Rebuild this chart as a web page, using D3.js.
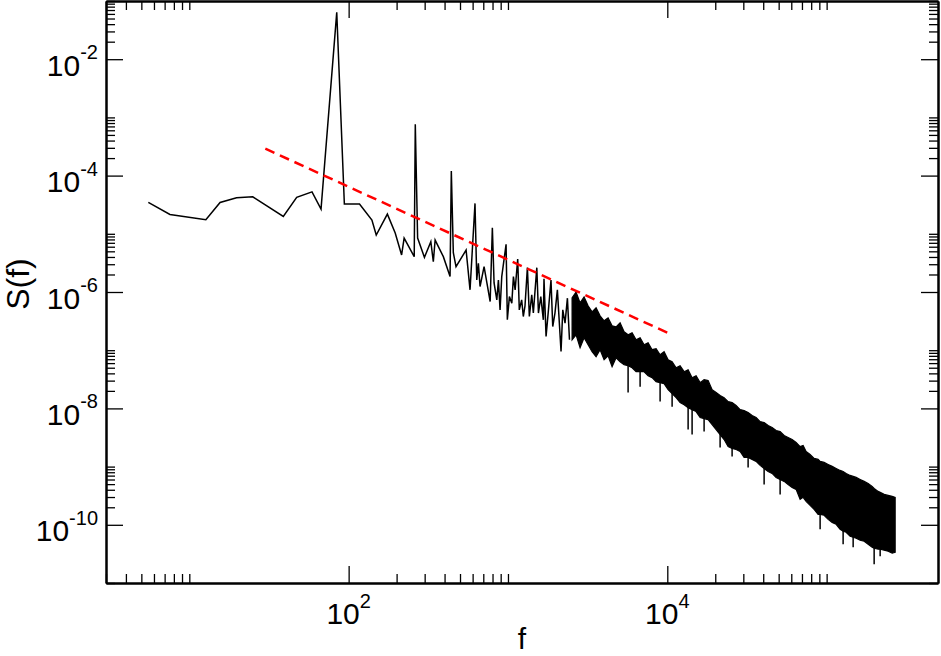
<!DOCTYPE html>
<html>
<head>
<meta charset="utf-8">
<script src="https://cdn.jsdelivr.net/npm/d3@7"></script>
<style>
  body { margin: 0; background: #fff; }
  text { font-family: "Liberation Sans", Arial, Helvetica, sans-serif; fill: #000; }
</style>
</head>
<body>
<div id="chart"></div>
<script>

// low frequency part of the spectrum, single points still visible
var lineFreq = [5.53, 7.56, 12.7, 15.6, 19.8, 25.0, 38.9, 47.2, 58.9, 67.1,
  84.2, 94.0, 117, 140, 149, 175, 196, 215, 223, 258,
  262, 271, 299, 328, 340, 349, 393, 433, 441, 454,
  472, 546, 578, 621, 637, 652, 668, 708, 773, 798,
  818, 851, 871, 892, 914, 973, 991, 1021, 1057, 1082,
  1109, 1151, 1178, 1219, 1248, 1279, 1324, 1362, 1410, 1443,
  1517, 1553, 1607, 1667, 1683, 1734, 1795, 1862, 1910, 1973,
  2042, 2153, 2208, 2281, 2361, 2432];
var lineS = [3.46e-5, 2.15e-5, 1.74e-5, 3.46e-5, 4.15e-5, 4.32e-5, 1.99e-5, 4.22e-5, 5.26e-5, 2.65e-5,
  6.39e-2, 3.24e-5, 3.24e-5, 1.72e-5, 9.53e-6, 2.18e-5, 1.03e-5, 4.33e-6, 8.45e-6, 4.05e-6,
  7.6e-4, 8.45e-6, 3.94e-6, 7.31e-6, 3.32e-6, 7.81e-6, 4.05e-6, 1.84e-6, 1.2e-4, 4.73e-6,
  2.72e-6, 5.26e-6, 1.09e-6, 3.33e-5, 1.61e-6, 3.12e-6, 1.24e-6, 2.72e-6, 6.85e-7, 1.27e-5,
  1.43e-6, 7.33e-7, 1.61e-6, 4.93e-7, 1.84e-6, 6.59e-6, 3.33e-7, 8.34e-7, 6.43e-7, 1.84e-6,
  1.09e-6, 3.69e-6, 4.93e-7, 7.33e-7, 3.79e-7, 5.78e-7, 2.62e-6, 3.79e-7, 8.91e-7, 4.38e-7,
  2.62e-6, 4.34e-7, 8.34e-7, 3.33e-7, 1.68e-6, 1.72e-7, 4.93e-7, 1.61e-6, 2.55e-7, 4.38e-7,
  1.09e-6, 9.5e-8, 4.93e-7, 2.92e-7, 7.83e-7, 1.51e-7];

// high frequency part: trace is so dense it reads as a band (upper / lower edge)
var bandFreq = [2526, 2676, 2835, 3004, 3183, 3372, 3573, 3786, 4011, 4250,
  4503, 4771, 5055, 5356, 5675, 6012, 6370, 6750, 7152, 7577,
  8028, 8506, 9012, 9548, 1.012e4, 1.072e4, 1.136e4, 1.203e4, 1.275e4, 1.351e4,
  1.431e4, 1.516e4, 1.607e4, 1.702e4, 1.804e4, 1.911e4, 2.025e4, 2.145e4, 2.273e4, 2.408e4,
  2.551e4, 2.703e4, 2.864e4, 3.034e4, 3.215e4, 3.406e4, 3.609e4, 3.824e4, 4.052e4, 4.293e4,
  4.548e4, 4.819e4, 5.106e4, 5.410e4, 5.731e4, 6.072e4, 6.434e4, 6.816e4, 7.118e4, 7.433e4,
  7.875e4, 8.344e4, 8.841e4, 9.101e4, 9.645e4, 1.022e5, 1.083e5, 1.147e5, 1.215e5, 1.269e5,
  1.326e5, 1.404e5, 1.467e5, 1.532e5, 1.623e5, 1.720e5, 1.822e5, 1.930e5, 1.987e5, 2.105e5,
  2.167e5, 2.296e5, 2.433e5, 2.577e5, 2.692e5];
var bandHigh = [7.92e-7, 1.00e-6, 6.50e-7, 8.24e-7, 5.78e-7, 4.56e-7, 5.34e-7, 3.90e-7, 3.20e-7, 3.60e-7,
  2.62e-7, 2.52e-7, 2.95e-7, 2.07e-7, 1.84e-7, 1.99e-7, 1.51e-7, 1.64e-7, 1.24e-7, 1.34e-7,
  1.02e-7, 1.06e-7, 8.36e-8, 9.41e-8, 6.86e-8, 6.34e-8, 5.00e-8, 5.41e-8, 4.27e-8, 4.62e-8,
  3.37e-8, 3.65e-8, 2.77e-8, 3.12e-8, 3.00e-8, 2.10e-8, 1.87e-8, 1.66e-8, 1.53e-8, 1.31e-8,
  1.26e-8, 1.12e-8, 9.54e-9, 9.17e-9, 8.47e-9, 7.53e-9, 6.96e-9, 5.94e-9, 5.71e-9, 5.07e-9,
  4.69e-9, 4.17e-9, 4.00e-9, 3.42e-9, 3.16e-9, 2.92e-9, 2.59e-9, 2.21e-9, 2.30e-9, 1.82e-9,
  1.62e-9, 1.38e-9, 1.33e-9, 1.23e-9, 1.18e-9, 1.09e-9, 1.01e-9, 9.30e-10, 8.59e-10, 8.26e-10,
  7.63e-10, 7.05e-10, 6.78e-10, 6.52e-10, 6.02e-10, 5.57e-10, 5.14e-10, 4.57e-10, 4.22e-10, 3.75e-10,
  3.61e-10, 3.33e-10, 3.20e-10, 3.08e-10, 2.96e-10];
var bandLow = [1.51e-7, 1.84e-7, 1.10e-7, 1.64e-7, 1.24e-7, 9.41e-8, 7.72e-8, 1.02e-7, 6.86e-8, 8.03e-8,
  5.20e-8, 7.42e-8, 6.34e-8, 5.63e-8, 5.41e-8, 5.00e-8, 4.27e-8, 4.27e-8, 4.27e-8, 3.65e-8,
  3.37e-8, 2.88e-8, 2.77e-8, 2.66e-8, 2.10e-8, 1.79e-8, 1.53e-8, 1.26e-8, 1.16e-8, 1.03e-8,
  9.54e-9, 8.82e-9, 6.96e-9, 6.69e-9, 6.43e-9, 5.28e-9, 4.33e-9, 3.56e-9, 2.92e-9, 2.21e-9,
  2.05e-9, 1.97e-9, 1.82e-9, 1.44e-9, 1.44e-9, 1.33e-9, 1.23e-9, 1.05e-9, 9.30e-10, 8.26e-10,
  7.63e-10, 6.52e-10, 6.02e-10, 5.57e-10, 4.94e-10, 4.39e-10, 4.06e-10, 2.74e-10, 2.96e-10, 2.53e-10,
  2.16e-10, 1.84e-10, 1.51e-10, 1.51e-10, 1.46e-10, 1.24e-10, 1.10e-10, 1.02e-10, 8.37e-11, 7.74e-11,
  7.44e-11, 6.35e-11, 6.11e-11, 5.87e-11, 5.43e-11, 5.22e-11, 4.63e-11, 4.12e-11, 3.96e-11, 3.80e-11,
  3.80e-11, 3.66e-11, 3.51e-11, 3.25e-11, 3.38e-11];

// narrow downward dips sticking out of the band
var dipFreq = [5675, 6750, 9012, 1.072e4, 1.351e4, 1.431e4, 1.702e4, 2.145e4, 2.551e4, 3.215e4,
  4.052e4, 5.106e4, 9.101e4, 1.269e5, 1.467e5, 1.987e5, 2.167e5];
var dipS = [1.87e-8, 2.36e-8, 1.31e-8, 1.07e-8, 4.33e-9, 3.56e-9, 4.00e-9, 2.13e-9, 1.49e-9, 9.67e-10,
  4.94e-10, 3.33e-10, 8.37e-11, 4.63e-11, 4.12e-11, 2.10e-11, 2.89e-11];

// red dashed power law guide
var fitFreq = [30, 10000];
var fitS = [2.9e-4, 2.0e-7];

// labelled ticks
var xMajor = [1e2, 1e4];
var xExp = ["2", "4"];
var yMajor = [1e-2, 1e-4, 1e-6, 1e-8, 1e-10];
var yExp = ["-2", "-4", "-6", "-8", "-10"];

var svgWidth = 941;
var svgHeight = 656;

var margin = {
  top: 1,
  right: 3,
  bottom: 73,
  left: 106
};

var width = svgWidth - margin.left - margin.right;
var height = svgHeight - margin.top - margin.bottom;

var svg = d3.select("#chart")
  .append("svg")
  .attr("width", svgWidth)
  .attr("height", svgHeight);

var chartGroup = svg.append("g")
  .attr("transform", `translate(${margin.left}, ${margin.top})`);

var xScale = d3.scaleLog()
  .domain([3, 5e5])
  .range([0, width]);

var yScale = d3.scaleLog()
  .domain([1e-11, 1e-1])
  .range([height, 0]);

// minor ticks: 2..10 times each labelled power (every second decade)
function minorTicks(scale, powers) {
  var out = [];
  var dom = scale.domain();
  powers.forEach(function(p) {
    for (var m = 2; m <= 10; m++) {
      var v = m * p;
      if (v >= dom[0] * 0.999 && v <= dom[1] * 1.001) out.push(v);
    }
  });
  return out;
}
var xMinor = minorTicks(xScale, [1, 1e2, 1e4]);
var yMinor = minorTicks(yScale, [1e-12, 1e-10, 1e-8, 1e-6, 1e-4, 1e-2]);

var majorLen = 17;
var minorLen = 9;

function addAxis(axisFn, transform, ticks, len) {
  var g = chartGroup.append("g")
    .attr("transform", transform)
    .call(axisFn
      .tickValues(ticks)
      .tickSize(-len)
      .tickSizeOuter(0)
      .tickFormat(""));
  g.select(".domain").attr("stroke-width", 2);
  g.selectAll(".tick line").attr("stroke-width", 1.3);
  return g;
}

// four sides, ticks pointing inwards
addAxis(d3.axisBottom(xScale), `translate(0, ${height})`, xMinor, minorLen);
addAxis(d3.axisBottom(xScale), `translate(0, ${height})`, xMajor, majorLen);
addAxis(d3.axisTop(xScale), "translate(0, 0)", xMinor, minorLen);
addAxis(d3.axisTop(xScale), "translate(0, 0)", xMajor, majorLen);
addAxis(d3.axisLeft(yScale), "translate(0, 0)", yMinor, minorLen);
addAxis(d3.axisLeft(yScale), "translate(0, 0)", yMajor, majorLen);
addAxis(d3.axisRight(yScale), `translate(${width}, 0)`, yMinor, minorLen);
addAxis(d3.axisRight(yScale), `translate(${width}, 0)`, yMajor, majorLen);

// tick labels with superscript exponent
xMajor.forEach(function(v, i) {
  var t = chartGroup.append("text")
    .attr("x", xScale(v))
    .attr("y", height + 41)
    .style("text-anchor", "middle")
    .style("font-size", "30px");
  t.append("tspan").text("10");
  t.append("tspan")
    .attr("dy", -16)
    .style("font-size", "20px")
    .text(xExp[i]);
});

yMajor.forEach(function(v, i) {
  var t = chartGroup.append("text")
    .attr("x", -8)
    .attr("y", yScale(v) + 16.5)
    .style("text-anchor", "end")
    .style("font-size", "30px");
  t.append("tspan").text("10");
  t.append("tspan")
    .attr("dy", -16.5)
    .style("font-size", "20px")
    .text(yExp[i]);
});

// axis titles
chartGroup.append("text")
  .attr("x", width / 2)
  .attr("y", height + 66)
  .style("text-anchor", "middle")
  .style("font-size", "30px")
  .text("f");

chartGroup.append("text")
  .attr("transform", `translate(${-77}, 283) rotate(-90)`)
  .style("text-anchor", "middle")
  .style("font-size", "32px")
  .text("S(f)");

// dense band
var band = d3.area()
  .x((d, i) => xScale(bandFreq[i]))
  .y0((d, i) => yScale(bandLow[i]))
  .y1((d, i) => yScale(bandHigh[i]));

chartGroup.append("path")
  .datum(bandFreq)
  .attr("d", band)
  .attr("fill", "#000")
  .attr("stroke", "#000")
  .attr("stroke-width", 1.2);

// dips: short vertical strokes from the band's lower edge down to the dip value
chartGroup.selectAll(".dip")
  .data(dipFreq)
  .enter()
  .append("line")
  .attr("class", "dip")
  .attr("x1", d => xScale(d))
  .attr("x2", d => xScale(d))
  .attr("y1", d => yScale(bandLow[bandFreq.indexOf(d)]) - 2)
  .attr("y2", (d, i) => yScale(dipS[i]))
  .attr("stroke", "#000")
  .attr("stroke-width", 1.5);

// spectrum trace
var line = d3.line()
  .x((d, i) => xScale(lineFreq[i]))
  .y((d, i) => yScale(lineS[i]));

chartGroup.append("path")
  .datum(lineFreq)
  .attr("d", line)
  .attr("fill", "none")
  .attr("stroke", "#000")
  .attr("stroke-width", 1.5);

// red dashed fit
var fitLine = d3.line()
  .x((d, i) => xScale(fitFreq[i]))
  .y((d, i) => yScale(fitS[i]));

chartGroup.append("path")
  .datum(fitFreq)
  .attr("d", fitLine)
  .attr("fill", "none")
  .attr("stroke", "#ff0000")
  .attr("stroke-width", 2.5)
  .attr("stroke-dasharray", "10,6");

</script>
</body>
</html>
